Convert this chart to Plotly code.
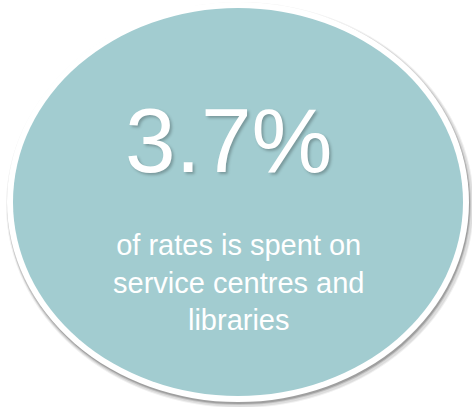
import plotly.graph_objects as go

# Data
headline = ["3.7%"]
caption_lines = ["of rates is spent on", "service centres and", "libraries"]

W, H = 472, 407
teal = "#A2CCD0"

fig = go.Figure()

shapes = []
# soft shadow layers
for dx, dy, grow, op in [(2, 3, 3, 0.06), (2, 3, 2, 0.08), (1, 2, 1, 0.12), (1, 2, 0, 0.18)]:
    shapes.append(dict(type="circle", xref="x", yref="y",
                       x0=7 + dx - grow, x1=469 + dx + grow, y0=2 + dy - grow, y1=402 + dy + grow,
                       fillcolor=f"rgba(0,0,0,{op})", line=dict(width=0), layer="below"))
# white border
shapes.append(dict(type="circle", xref="x", yref="y", x0=7, x1=469, y0=2, y1=402,
                   fillcolor="white", line=dict(width=0), layer="below"))
# teal fill
shapes.append(dict(type="circle", xref="x", yref="y", x0=13, x1=463, y0=8, y1=396,
                   fillcolor=teal, line=dict(width=0), layer="below"))

annotations = [
    dict(x=228, y=140, xref="x", yref="y", text=headline[0], showarrow=False,
         xanchor="center", yanchor="middle",
         font=dict(family="Liberation Sans, Arial, sans-serif", size=91, color="white",
                   shadow="2px 2px 3px rgba(0,0,0,0.25)")),
    dict(x=238, y=282, xref="x", yref="y", text="<br>".join(caption_lines), showarrow=False,
         xanchor="center", yanchor="middle", align="center",
         font=dict(family="Liberation Sans, Arial, sans-serif", size=29, color="white")),
]

fig.update_layout(
    width=W, height=H, margin=dict(l=0, r=0, t=0, b=0),
    paper_bgcolor="white", plot_bgcolor="white",
    shapes=shapes, annotations=annotations, showlegend=False,
    xaxis=dict(range=[0, W], visible=False, fixedrange=True),
    yaxis=dict(range=[H, 0], visible=False, fixedrange=True),
)

fig.write_html("out.html", config={"displayModeBar": False},
               post_script="document.body.style.margin='0';document.body.style.overflow='hidden';")
